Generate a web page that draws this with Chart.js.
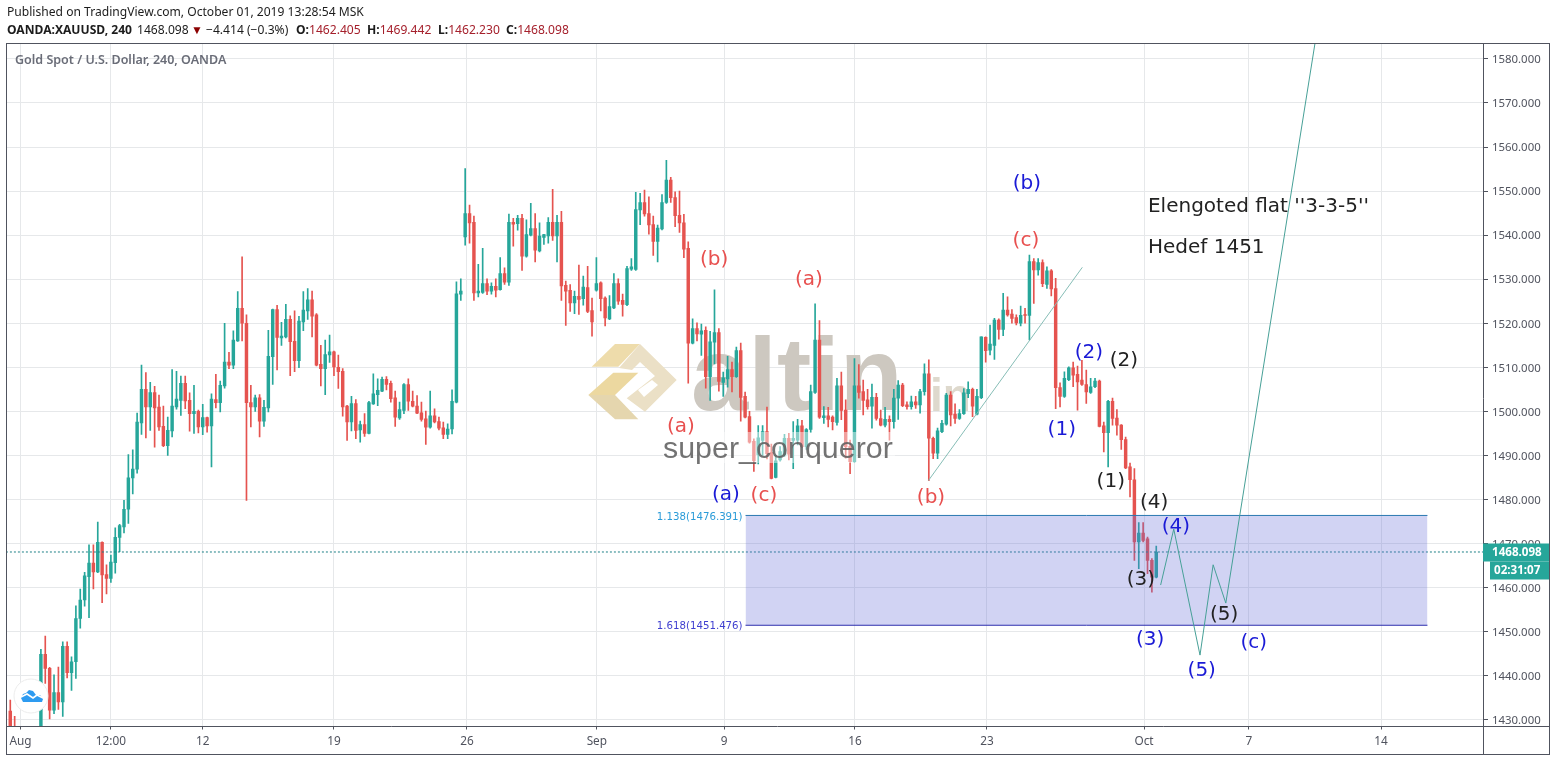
<!DOCTYPE html>
<html>
<head>
<meta charset="utf-8">
<title>XAUUSD 240</title>
<script src="https://cdn.jsdelivr.net/npm/chart.js@4/dist/chart.umd.min.js"></script>
<style>
    html, body { margin: 0; padding: 0; background: #fff; }
    #wrap { position: relative; width: 1556px; height: 761px; overflow: hidden; }
    #priceChart { position: absolute; left: 0; top: 0; }
    .txt { position: absolute; white-space: nowrap; font-family: "Noto Sans", sans-serif; color: #1c1c1c; font-size: 12.1px; line-height: 18px; }
    .txt b { font-weight: 700; }
    .val { color: #a5202c; }
    #published { left: 7px; top: 3px; }
    .q { top: 21px; }
    #tri { color: #8b0000; font-size: 12px; }
    #title { left: 15px; top: 51px; font-size: 12.5px; font-weight: 600; color: #6a6d78; }
</style>
</head>
<body>
<div id="wrap">
    <canvas id="priceChart" width="1556" height="761"></canvas>
    <div class="txt" id="published">Published on TradingView.com, October 01, 2019 13:28:54 MSK</div>
    <div class="txt q" style="left:7px"><b>OANDA:XAUUSD, 240</b></div>
    <div class="txt q" style="left:137px">1468.098</div>
    <div class="txt q" id="tri" style="left:191px">▼</div>
    <div class="txt q" style="left:206px">−4.414 (−0.3%)</div>
    <div class="txt q" style="left:296px"><b>O:</b><span class="val">1462.405</span></div>
    <div class="txt q" style="left:367px"><b>H:</b><span class="val">1469.442</span></div>
    <div class="txt q" style="left:438px"><b>L:</b><span class="val">1462.230</span></div>
    <div class="txt q" style="left:506px"><b>C:</b><span class="val">1468.098</span></div>
    <div class="txt" id="title">Gold Spot / U.S. Dollar, 240, OANDA</div>
</div>
<script>
// 4h candles, one entry per bar. null = bar sits below the visible pane
const opens = [
    1432,1427,null,null,null,null,null,1427,1444.9,1441.7,
    1432.2,1436.2,1434.1,1446.7,1440.7,1443.2,1453,1457.2,1462.5,1465.6,
    1463.6,1470.3,1463,1462.1,1465.7,1471.4,1473.8,1477.8,1484.9,1486.9,
    1497.4,1505,1501,1504.3,1501,1496.6,1492.2,1495.6,1501,1502.5,
    1506.4,1502.5,1499.5,1500,1496.5,1498.6,1496.7,1502.7,1502,1505.8,
    1511.2,1510.5,1516,1523.4,1520,1502,1501,1503.1,1497.8,1500.8,
    1512.4,1523.1,1516.7,1516.9,1520.9,1515.9,1511.5,1520.3,1522.8,1525.3,
    1521.9,1510.7,1509.7,1512.8,1513.5,1510,1509.1,1501.2,1497.6,1501.8,
    1495.8,1497,1495,1501.7,1503.8,1504.6,1507.3,1506.4,1503.1,1498.5,
    1500.2,1506.1,1502.3,1501.2,1499.7,1498.3,1496.4,1499,1497.7,1496.3,
    1494.8,1496,1502.1,1526.6,1539.6,1544.9,1542.9,1526.9,1527,1529,
    1527.3,1528.4,1527.6,1531.3,1529.3,1542.9,1542.6,1543.8,1535.2,1540,
    1541.5,1536.4,1539.5,1539.8,1542.9,1539.8,1542.9,1528.6,1527.5,1524.6,
    1526.1,1525.6,1528.1,1522.9,1527.5,1529.2,1525.7,1521,1523.5,1529,
    1525.2,1524.2,1532.3,1532.2,1545.7,1547.4,1544.9,1542.4,1538.6,1541.4,
    1547.4,1552.5,1548.5,1544.5,1542.8,1537,1515.5,1518.8,1517.5,1518.4,
    1507.9,1515.7,1517.9,1506.6,1507.4,1509.5,1507.9,1513.8,1503.4,1498.8,
    1493.2,1490.2,1493.4,1495.4,1490.7,1485,1489,1490.1,1493.9,1493.4,
    1493.5,1496.7,1492,1495.9,1504.3,1516.2,1498.6,1499,1498.7,1497.5,
    1505.8,1500.3,1492.1,1488.6,1505.8,1504.5,1502.6,1501.2,1503.2,1498.4,
    1496.9,1498.2,1497.7,1503,1506,1501.5,1501.1,1502.2,1501.5,1504.5,
    1508.5,1493.9,1490.5,1495.4,1497.1,1503.7,1499.4,1498.4,1499.5,1504,
    1505,1499.4,1503.1,1516.8,1513.9,1515,1520.7,1518.6,1523,1522.1,
    1521.3,1520,1522,1521.8,1534,1532.1,1533.8,1528.8,1531.9,1527.9,
    1505.4,1503.4,1507.2,1509.9,1508.4,1507.1,1506.1,1504.3,1505.6,1506.9,
    1496.7,1495.2,1502.3,1498.5,1496.9,1493.6,1487.4,1484.5,1470.4,1472.4,
    1471.1,1466.2,1462.405
];
const highs = [
    1434.5,1430.8,null,null,null,null,null,1446,1449,1441.9,
    1440.2,1442,1447.7,1447.7,1444.3,1455.9,1459.7,1463.5,1469.7,1469.7,
    1474.9,1470.4,1465.2,1467.4,1473.6,1474.4,1479.8,1490.2,1491.3,1499.6,
    1510.5,1508.8,1506.6,1505.7,1503.7,1501.2,1498.7,1509.5,1509.1,1508,
    1508,1504.2,1505.9,1500.3,1501.6,1498.7,1504,1508.4,1506.9,1520,
    1513.4,1518.3,1527.2,1535.1,1521.9,1505.9,1503.7,1503.8,1502.5,1518.4,
    1523.2,1524.1,1520.2,1524.3,1521.7,1522.8,1521.6,1527.2,1527.9,1527.3,
    1522.2,1515,1516.2,1517.3,1513.7,1512.8,1509.7,1501.4,1503.4,1502.7,
    1497.8,1499.5,1502.3,1508.5,1507.4,1507.8,1507.9,1506.9,1504.6,1502.1,
    1506.3,1507.4,1504.6,1503.6,1502.1,1500.1,1504.6,1500.6,1498.7,1497.6,
    1497.2,1504.9,1529.4,1530.1,1555.1,1546.8,1544.3,1533.4,1537,1530.1,
    1529.2,1530.1,1534.9,1532.6,1544.8,1543.8,1544.5,1544.7,1543.5,1547.2,
    1544.9,1542.8,1540.2,1544,1550.4,1544.5,1545.4,1529.6,1528.8,1527.3,
    1533.2,1530.7,1532.9,1525.7,1534.9,1529.4,1526,1526.3,1531.3,1530.1,
    1526.6,1532.9,1534.7,1549.7,1549.5,1550.2,1548.7,1544.3,1542.3,1549.2,
    1557,1553.1,1549.8,1550,1544.7,1538.5,1521,1520.1,1519.8,1519.2,
    1518.2,1527.6,1518.8,1508.9,1512.5,1511.2,1514.6,1515.5,1504.4,1500,
    1493.8,1496.8,1496.8,1501,1492.6,1490,1492,1494.8,1495,1497.7,
    1498.2,1498,1496.1,1506,1524.4,1520.6,1501.1,1500.9,1499,1507.5,
    1508.9,1502.6,1493.5,1512,1510.6,1507.1,1505,1506.2,1504.1,1500.3,
    1500.9,1499,1505,1507,1506.4,1502.2,1503.5,1503.4,1505,1510.8,
    1511.7,1494.2,1496.2,1498,1504.1,1504.5,1501.7,1500.4,1505.2,1506.7,
    1505.3,1505,1516.9,1516.9,1519.6,1521.1,1521,1526.8,1526,1523.1,
    1521.9,1523.9,1523.4,1535.5,1534.7,1534.7,1534.4,1532.8,1532.2,1530.2,
    1506.5,1509,1510.1,1511.2,1510.3,1511.6,1509.4,1507.5,1507.5,1507.1,
    1497.6,1502.5,1503,1500.4,1497,1494.2,1488.3,1487,1474.8,1474.8,
    1471.5,1466.6,1469.442
];
const lows = [
    1422,1420,null,null,null,null,null,1425,1438.3,1430.2,
    1431.4,1432.4,1430.8,1439.5,1436.7,1439.4,1450.8,1455.8,1453.2,1459.7,
    1463.4,1456.6,1458.6,1461.2,1463.3,1468.2,1472.4,1474.6,1481.3,1486,
    1494.8,1494,1495.7,1491.9,1495.7,1492,1490,1494.2,1500.5,1499.1,
    1500.6,1495.5,1495,1495.1,1494.7,1495.3,1487.4,1500.8,1499.9,1505.3,
    1509.7,1509.7,1515.9,1516,1479.8,1496.5,1500,1494.2,1496.6,1499.9,
    1506.1,1509.4,1515,1516.7,1508.1,1509,1509.9,1518.3,1520.9,1516.9,
    1510.3,1505.8,1503.8,1511.1,1508.1,1505.2,1498.9,1493.4,1495.6,1493.8,
    1493,1494.3,1494.9,1501.6,1501.3,1504.5,1504.9,1502.1,1496.6,1498.2,
    1499.5,1500.2,1501,1499.5,1497.8,1492.5,1496.2,1497.4,1495.8,1493.8,
    1493.8,1494.9,1501.9,1525.2,1537.7,1538.2,1525.2,1526,1526.8,1526.5,
    1526.6,1526,1527.5,1528.8,1528.6,1537.5,1541.1,1532,1535,1539.8,
    1533.9,1536.2,1537.9,1538.2,1538.8,1533.9,1525.2,1519.5,1522.7,1522.2,
    1522,1524.1,1522.4,1517.1,1527.3,1522.8,1519.4,1520.8,1523.3,1524.3,
    1521.6,1524,1532,1532,1542.4,1544.3,1540.2,1535.4,1533.9,1541.2,
    1547.2,1547.4,1541.9,1540.6,1534.9,1506.4,1515.3,1516,1512.7,1505.3,
    1502.5,1510.8,1504.6,1503.4,1505.5,1504.4,1507.7,1497.8,1498.5,1492.8,
    1486.4,1488.1,1490,1489.2,1484.7,1484.9,1488.7,1489.8,1489,1487,
    1492.4,1491.8,1491.4,1495.2,1504.1,1498.4,1497.3,1496.5,1495.8,1496.9,
    1498.1,1489.4,1485.9,1488.4,1503,1499.2,1500.5,1496.2,1498,1496.7,
    1496.5,1493.5,1496.2,1498.2,1501.1,1500.5,1500.5,1500.7,1499.6,1503.7,
    1484.3,1489.3,1489.3,1495.2,1496.9,1496.7,1497.3,1498.2,1499.3,1503.1,
    1498.8,1499.2,1502.9,1511.2,1512.8,1511.8,1516.4,1517.2,1521.6,1520,
    1519.6,1519.4,1520,1516.2,1524.5,1530.9,1528.3,1527.9,1526.2,1500.6,
    1501,1503.2,1507,1505.6,1500.3,1505.9,1501.8,1504.1,1505.4,1496.5,
    1490.8,1487.4,1496.9,1494.6,1491.4,1487,1480.6,1466.2,1464.3,1470.4,
    1463.2,1459,1462.23
];
const closes = [
    1425,1424,null,null,null,null,null,1444.9,1441.7,1432.2,
    1436.2,1434.1,1446.7,1440.7,1443.2,1453,1457.2,1462.7,1465.6,1463.6,
    1470.3,1462.9,1462.1,1465.8,1471.4,1474.1,1477.8,1484.9,1486.9,1497.6,
    1505,1501,1504.3,1500.8,1496.5,1492.2,1495.7,1501.2,1502.8,1506.4,
    1502.4,1499.5,1500,1496.5,1498.6,1496.7,1502.8,1502,1505.9,1511.2,
    1510.5,1516.2,1523.4,1520,1502,1501,1503.1,1497.8,1500.9,1512.5,
    1523.1,1516.8,1517.1,1520.9,1515.8,1511.5,1520.5,1523,1525.3,1521.6,
    1510.5,1509.7,1512.9,1513.5,1510.1,1509,1501,1497.6,1501.8,1495.7,
    1497,1495,1502,1504,1504.8,1507.3,1506.1,1502.9,1498.7,1500.4,
    1506.1,1502.3,1501.2,1499.6,1498.2,1496.4,1499,1497.6,1496.2,1494.8,
    1496,1502.3,1526.7,1527.3,1544.9,1542.8,1526.9,1527.3,1529,1527.3,
    1528.4,1527.5,1531.3,1529.3,1542.9,1542.5,1543.8,1535.2,1540.1,1541.5,
    1536.6,1539.8,1540.1,1542.9,1539.8,1542.9,1528.5,1527.3,1524.6,1526.1,
    1525.4,1528.2,1522.7,1520.3,1529,1525.6,1521.2,1523.8,1529,1525,
    1524.3,1532.4,1532.8,1545.8,1547.4,1544.8,1542.3,1538.6,1541.6,1547.4,
    1552.5,1548.5,1544.4,1542.8,1536.8,1515.5,1518.8,1517.6,1518.3,1507.9,
    1515.8,1517.9,1506.8,1507.6,1509.5,1507.9,1513.8,1503.2,1498.7,1493,
    1488.8,1494,1495.4,1490.4,1484.8,1488.8,1490.9,1493.9,1490.3,1493.9,
    1496.7,1492,1495.9,1504.5,1516.2,1498.7,1499,1498.2,1497.7,1505.8,
    1500.2,1492,1488.6,1505.8,1504.3,1502.5,1501.1,1503.2,1498.4,1496.9,
    1498.2,1497.7,1503,1506,1501.3,1501.1,1502.2,1501.5,1504.5,1508.5,
    1493.9,1490.5,1495.6,1497.3,1503.7,1499.2,1498.4,1499.5,1504.2,1505,
    1501.2,1503.4,1516.9,1513.8,1515.3,1520.7,1518.6,1523,1521.9,1521.1,
    1520.1,1521.8,1521.8,1534,1532.1,1533.8,1529,1531.9,1527.8,1505.4,
    1503.4,1507.5,1509.9,1508.2,1506.7,1506.1,1504.4,1505.6,1506.9,1496.6,
    1495.2,1502.3,1498.4,1496.9,1493.6,1487.2,1484.5,1470.4,1472.4,1470.7,
    1466.2,1462.4,1468.098
];

// x axis: bar numbers where the date labels sit
const dateTicks = [2.35, 23, 44, 74, 104.4, 134.1, 163.2, 193.1, 223.3, 259.2, 283.2, 313.4];
const dateLabels = ['Aug', '12:00', '12', '19', '26', 'Sep', '9', '16', '23', 'Oct', '7', '14'];

// drawings on the chart, in bar number / price
const forecastBars = [263, 266, 272, 275, 277.9, 298.3];
const forecastPrices = [1460.6, 1473.3, 1444.7, 1465.2, 1456.5, 1583.6];
const trendBars = [209.9, 245.1];
const trendPrices = [1484.3, 1532.7];
const fibBars = [168.1, 324];
const fibTop = 1476.391;
const fibBottom = 1451.476;
const lastPrice = 1468.098;

const noteTexts = ['(b)', '(a)', '(c)', '(b)', '(2)', '(2)', '(1)', '(a)', '(a)', '(c)', '(b)', '(1)', '(4)', '(4)', '(3)', '(3)', '(5)', '(5)', '(c)'];
const noteBars = [160.9, 182.6, 232.2, 232.4, 246.6, 254.6, 240.4, 153.3, 163.6, 172.3, 210.5, 251.6, 261.5, 266.5, 258.5, 260.6, 277.5, 272.4, 284.3];
const notePrices = [1534.4, 1529.9, 1538.7, 1551.7, 1513.3, 1511.5, 1495.9, 1496.5, 1481.1, 1480.9, 1480.4, 1484.1, 1479.3, 1473.8, 1461.8, 1448.2, 1453.9, 1441.2, 1447.5];
const noteColors = ['r', 'r', 'r', 'b', 'b', 'k', 'b', 'r', 'b', 'r', 'r', 'k', 'k', 'b', 'k', 'b', 'k', 'b', 'b'];
const NOTE_COLOR = { r: '#e8504f', b: '#1a1ad6', k: '#222222' };

const UP = '#26a69a';
const DOWN = '#e5534f';
const FRAME = '#50535e';
const GRID = '#e6e8ea';

const bars = opens.map((o, i) => i);
const candleColors = bars.map(i => closes[i] >= opens[i] ? UP : DOWN);
const wicks = bars.map(i => ({ x: i, y: highs[i] === null ? null : [lows[i], highs[i]] }));
const bodies = bars.map(i => ({ x: i, y: opens[i] === null ? null : [opens[i], closes[i]] }));

function toPoints(xs, ys) {
    return xs.map((x, i) => ({ x: x, y: ys[i] }));
}

function polygon(ctx, pts, color) {
    ctx.fillStyle = color;
    ctx.beginPath();
    pts.forEach((p, i) => i ? ctx.lineTo(p[0], p[1]) : ctx.moveTo(p[0], p[1]));
    ctx.closePath();
    ctx.fill();
}

// altin.in watermark, sits under the candles
const watermarkUnder = {
    id: 'watermarkUnder',
    beforeDatasetsDraw(chart) {
        const ctx = chart.ctx;
        ctx.save();
        polygon(ctx, [[591.7, 366.7], [615, 344], [640, 344], [618.3, 366.7]], '#eedcab');
        polygon(ctx, [[588.3, 395], [613.3, 372.7], [638.3, 372.7], [615, 395]], '#ecd8a0');
        polygon(ctx, [[588.3, 395], [615, 395], [638.3, 419.3], [615, 419.3]], '#e5d6ae');
        polygon(ctx, [[640, 344], [676.7, 380], [645, 411.7], [626.7, 398.3], [655, 376], [640, 362], [632, 370], [619, 368]], '#ebe0c6');
        polygon(ctx, [[638, 390], [652, 380], [658, 385], [644, 397]], '#ffffff');
        ctx.fillStyle = '#cdc8c0';
        ctx.font = 'bold 103px "Liberation Sans"';
        ctx.textAlign = 'left';
        ctx.textBaseline = 'alphabetic';
        ctx.fillText('altin', 691, 410);
        ctx.fillStyle = '#ded9cd';
        ctx.font = 'bold 46px "Liberation Sans"';
        ctx.fillText('in', 930, 411);
        ctx.restore();
    }
};

const overlays = {
    id: 'overlays',
    afterDatasetsDraw(chart) {
        const ctx = chart.ctx;
        const xs = chart.scales.x;
        const ys = chart.scales.y;
        const area = chart.chartArea;
        ctx.save();

        // super_conqueror with its washed out strip
        ctx.fillStyle = 'rgba(255,255,255,0.45)';
        ctx.fillRect(663, 432, 232, 31);
        ctx.fillStyle = 'rgba(90,90,90,0.85)';
        ctx.font = '30.4px "Liberation Sans"';
        ctx.textAlign = 'left';
        ctx.textBaseline = 'alphabetic';
        ctx.fillText('super_conqueror', 663, 458);

        // wave labels
        ctx.font = '20px "DejaVu Sans"';
        ctx.textAlign = 'center';
        ctx.textBaseline = 'middle';
        noteTexts.forEach((t, i) => {
            ctx.fillStyle = NOTE_COLOR[noteColors[i]];
            ctx.fillText(t, xs.getPixelForValue(noteBars[i]), ys.getPixelForValue(notePrices[i]));
        });
        ctx.textAlign = 'left';
        ctx.fillStyle = '#222222';
        ctx.fillText("Elengoted flat ''3-3-5''", xs.getPixelForValue(260.1), ys.getPixelForValue(1546.4));
        ctx.fillText('Hedef 1451', xs.getPixelForValue(260.1), ys.getPixelForValue(1537.1));

        // fib level captions
        ctx.font = '10.2px "DejaVu Sans"';
        ctx.textAlign = 'right';
        const fibX = xs.getPixelForValue(fibBars[0]) - 3;
        ctx.fillStyle = '#2a9bd8';
        ctx.fillText('1.138(1476.391)', fibX, ys.getPixelForValue(fibTop) + 1.5);
        ctx.fillStyle = '#3f3fd0';
        ctx.fillText('1.618(1451.476)', fibX, ys.getPixelForValue(fibBottom) + 1.5);

        // tradingview badge
        ctx.beginPath();
        ctx.arc(31, 696, 17, 0, Math.PI * 2);
        ctx.fillStyle = '#ffffff';
        ctx.fill();
        ctx.strokeStyle = '#ececec';
        ctx.lineWidth = 1;
        ctx.stroke();
        polygon(ctx, [[21, 698], [23, 694], [26, 693], [29, 690], [33, 691], [36, 695], [40, 695], [43, 699], [42, 702], [23, 702]], '#2e9bf0');
        ctx.strokeStyle = '#ffffff';
        ctx.lineWidth = 1.6;
        ctx.beginPath();
        ctx.moveTo(21, 697);
        ctx.lineTo(27, 694);
        ctx.lineTo(33, 698);
        ctx.lineTo(37, 695);
        ctx.lineTo(43, 698);
        ctx.stroke();

        // frame
        ctx.strokeStyle = FRAME;
        ctx.lineWidth = 1;
        ctx.strokeRect(6.5, 43.5, 1543, 711);
        ctx.beginPath();
        ctx.moveTo(area.right + 0.5, 43);
        ctx.lineTo(area.right + 0.5, 754);
        ctx.moveTo(6, 726.5);
        ctx.lineTo(1549, 726.5);
        ctx.stroke();

        // last price and countdown tags
        const py = ys.getPixelForValue(lastPrice);
        ctx.fillStyle = UP;
        ctx.fillRect(1483, py - 8.5, 66, 18);
        ctx.fillRect(1490, py + 9.5, 59, 18);
        ctx.fillStyle = '#ffffff';
        ctx.font = 'bold 11.6px "Noto Sans"';
        ctx.textAlign = 'left';
        ctx.fillText(lastPrice.toFixed(3), 1492, py + 1);
        ctx.fillText('02:31:07', 1494, py + 19);
        ctx.restore();
    }
};

new Chart(document.getElementById('priceChart'), {
    type: 'bar',
    data: {
        datasets: [
            {
                type: 'line', data: toPoints(fibBars, [fibTop, fibTop]), borderColor: '#2a78b0', borderWidth: 1,
                backgroundColor: 'rgba(103,108,214,0.3)', fill: '+1', pointRadius: 0, order: 1
            },
            {
                type: 'line', data: toPoints(fibBars, [fibBottom, fibBottom]), borderColor: '#2323a8', borderWidth: 1,
                pointRadius: 0, order: 1
            },
            {
                type: 'line', data: toPoints([-1, 337], [lastPrice, lastPrice]), borderColor: '#1d7f86', borderWidth: 1,
                borderDash: [2, 2], pointRadius: 0, order: 1
            },
            {
                type: 'line', data: toPoints(forecastBars, forecastPrices), borderColor: '#47a097', borderWidth: 1,
                pointRadius: 0, tension: 0, order: 0
            },
            {
                type: 'line', data: toPoints(trendBars, trendPrices), borderColor: '#86bdb6', borderWidth: 1,
                pointRadius: 0, tension: 0, order: 0
            },
            { data: wicks, backgroundColor: candleColors, barThickness: 1, grouped: false, order: 3 },
            { data: bodies, backgroundColor: candleColors, barThickness: 2.8, grouped: false, order: 2 }
        ]
    },
    options: {
        responsive: false,
        animation: false,
        events: [],
        layout: { padding: { left: 7, top: 43, right: 7, bottom: 7 } },
        plugins: { legend: { display: false }, tooltip: { enabled: false } },
        scales: {
            x: {
                type: 'linear',
                offset: false,
                min: -0.75,
                max: 336.7,
                border: { display: false },
                grid: { color: GRID, offset: false, tickLength: 3, tickColor: FRAME },
                ticks: {
                    autoSkip: false,
                    maxRotation: 0,
                    padding: 5,
                    color: '#50535e',
                    font: { family: 'Noto Sans', size: 11.8 },
                    callback: (value, index) => dateLabels[index]
                },
                afterBuildTicks: (axis) => { axis.ticks = dateTicks.map(v => ({ value: v })); },
                afterFit: (axis) => { axis.height = 27.5; }
            },
            y: {
                type: 'linear',
                position: 'right',
                min: 1428.5,
                max: 1583.6,
                border: { display: false },
                grid: { color: GRID, tickLength: 5, tickColor: FRAME },
                ticks: {
                    stepSize: 10,
                    includeBounds: false,
                    padding: 4,
                    labelOffset: 1,
                    color: '#50535e',
                    font: { family: 'Noto Sans', size: 11.4 },
                    callback: (value) => value.toFixed(3)
                },
                afterFit: (axis) => { axis.width = 66; }
            }
        }
    },
    plugins: [watermarkUnder, overlays]
});
</script>
</body>
</html>
